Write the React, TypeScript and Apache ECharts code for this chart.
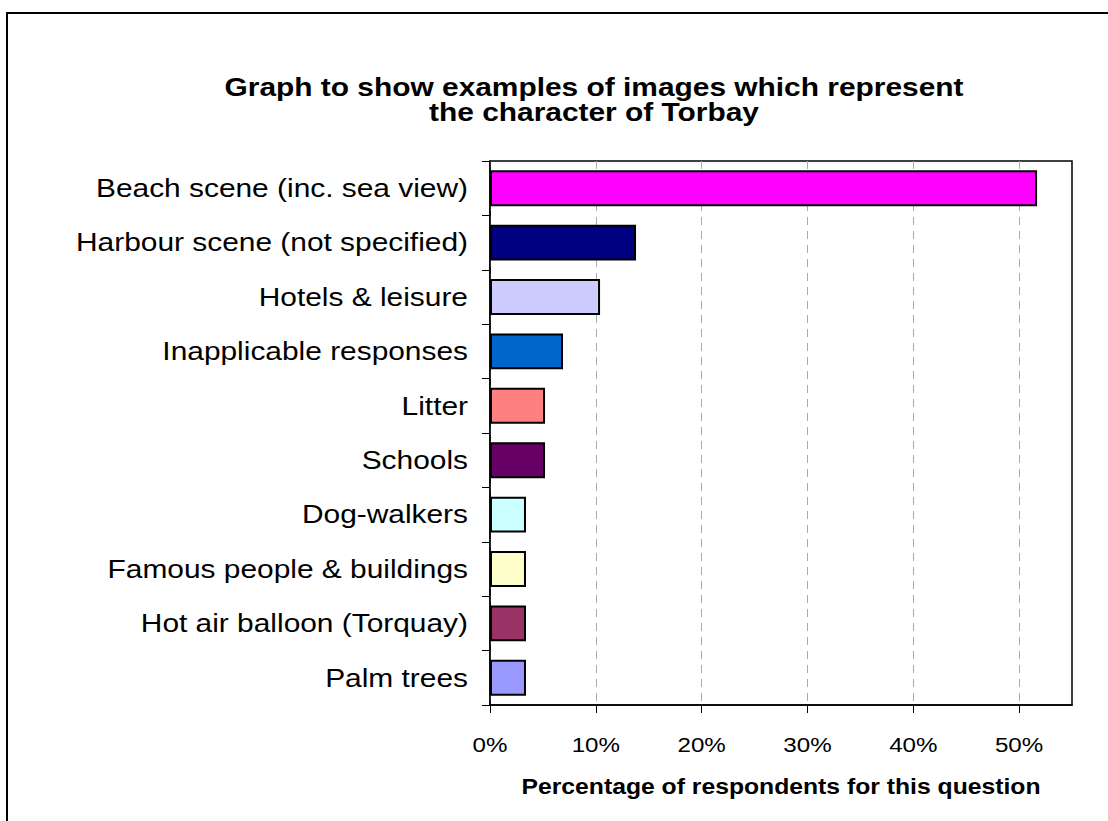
import React, { useEffect, useRef } from "react";
import * as echarts from "echarts";

const categories = [
  "Beach scene (inc. sea view)",
  "Harbour scene (not specified)",
  "Hotels & leisure",
  "Inapplicable responses",
  "Litter",
  "Schools",
  "Dog-walkers",
  "Famous people & buildings",
  "Hot air balloon (Torquay)",
  "Palm trees",
];
const values = [51.7, 13.8, 10.4, 6.9, 5.2, 5.2, 3.4, 3.4, 3.4, 3.4];
const barColors = [
  "#FF00FF",
  "#000080",
  "#CCCCFF",
  "#0066CC",
  "#FF8080",
  "#660066",
  "#CCFFFF",
  "#FFFFCC",
  "#993366",
  "#9999FF",
];
const xTickValues = [0, 10, 20, 30, 40, 50];
const xTickLabels = ["0%", "10%", "20%", "30%", "40%", "50%"];
const titleLines = [
  "Graph to show examples of images which represent",
  "the character of Torbay",
];
const xAxisName = "Percentage of respondents for this question";

const FONT = "'Liberation Sans', Arial, sans-serif";
const SX = 1.15;

export default function App() {
  const ref = useRef<HTMLDivElement>(null);
  useEffect(() => {
    if (!ref.current) return;
    const chart = echarts.init(ref.current, undefined, { renderer: "svg" });
    chart.setOption({
      animation: false,
      backgroundColor: "#ffffff",
      grid: {
        left: 490,
        right: 36,
        top: 161,
        bottom: 116,
        show: true,
        borderColor: "#000",
        borderWidth: 1.5,
        backgroundColor: "transparent",
      },
      xAxis: {
        type: "value",
        min: 0,
        max: 55,
        interval: 10,
        axisLine: { show: true, lineStyle: { color: "#000", width: 1.5 } },
        axisTick: {
          show: true,
          length: 8,
          customValues: xTickValues,
          lineStyle: { color: "#000" },
        },
        axisLabel: { show: false },
        splitLine: {
          show: true,
          lineStyle: { color: "#aaa", type: [8, 6], width: 1 },
        },
      },
      yAxis: {
        type: "category",
        data: categories,
        inverse: true,
        axisLine: { show: true, lineStyle: { color: "#000", width: 1.5 } },
        axisTick: { show: true, length: 8, lineStyle: { color: "#000" } },
        axisLabel: { show: false },
        splitLine: { show: false },
      },
      series: [
        {
          type: "bar",
          data: values.map((v, i) => ({
            value: v,
            itemStyle: { color: barColors[i] },
          })),
          barCategoryGap: "34%",
          itemStyle: { borderColor: "#000", borderWidth: 2 },
        },
      ],
    });

    const graphics: any[] = [
      {
        type: "rect",
        shape: { x: 7, y: 13, width: 1300, height: 1000 },
        style: { fill: "none", stroke: "#000", lineWidth: 2 },
        silent: true,
      },
    ];
    titleLines.forEach((t, i) => {
      graphics.push({
        type: "text",
        x: 594,
        y: 87 + i * 25,
        scaleX: SX,
        silent: true,
        style: {
          text: t,
          x: 0,
          y: 0,
          align: "center",
          verticalAlign: "middle",
          fontFamily: FONT,
          fontSize: 26,
          fontWeight: "bold",
          fill: "#000",
        },
      });
    });
    const x0 = chart.convertToPixel({ xAxisIndex: 0 }, 0) as number;
    const x1 = chart.convertToPixel({ xAxisIndex: 0 }, 55) as number;
    categories.forEach((c) => {
      const py = chart.convertToPixel({ yAxisIndex: 0 }, c) as number;
      graphics.push({
        type: "text",
        x: x0 - 22,
        y: py,
        scaleX: SX,
        silent: true,
        style: {
          text: c,
          x: 0,
          y: 0,
          align: "right",
          verticalAlign: "middle",
          fontFamily: FONT,
          fontSize: 26,
          fill: "#000",
        },
      });
    });
    const bottomY = 821 - 116;
    xTickValues.forEach((v, i) => {
      const px = chart.convertToPixel({ xAxisIndex: 0 }, v) as number;
      graphics.push({
        type: "text",
        x: px,
        y: bottomY + 40,
        scaleX: SX,
        silent: true,
        style: {
          text: xTickLabels[i],
          x: 0,
          y: 0,
          align: "center",
          verticalAlign: "middle",
          fontFamily: FONT,
          fontSize: 21,
          fill: "#000",
        },
      });
    });
    graphics.push({
      type: "text",
      x: (x0 + x1) / 2,
      y: bottomY + 82,
      scaleX: SX,
      silent: true,
      style: {
        text: xAxisName,
        x: 0,
        y: 0,
        align: "center",
        verticalAlign: "middle",
        fontFamily: FONT,
        fontSize: 21.5,
        fontWeight: "bold",
        fill: "#000",
      },
    });
    chart.setOption({ graphic: graphics });
    return () => chart.dispose();
  }, []);
  return (
    <div
      ref={ref}
      style={{ position: "absolute", left: 0, top: 0, width: 1108, height: 821 }}
    />
  );
}
